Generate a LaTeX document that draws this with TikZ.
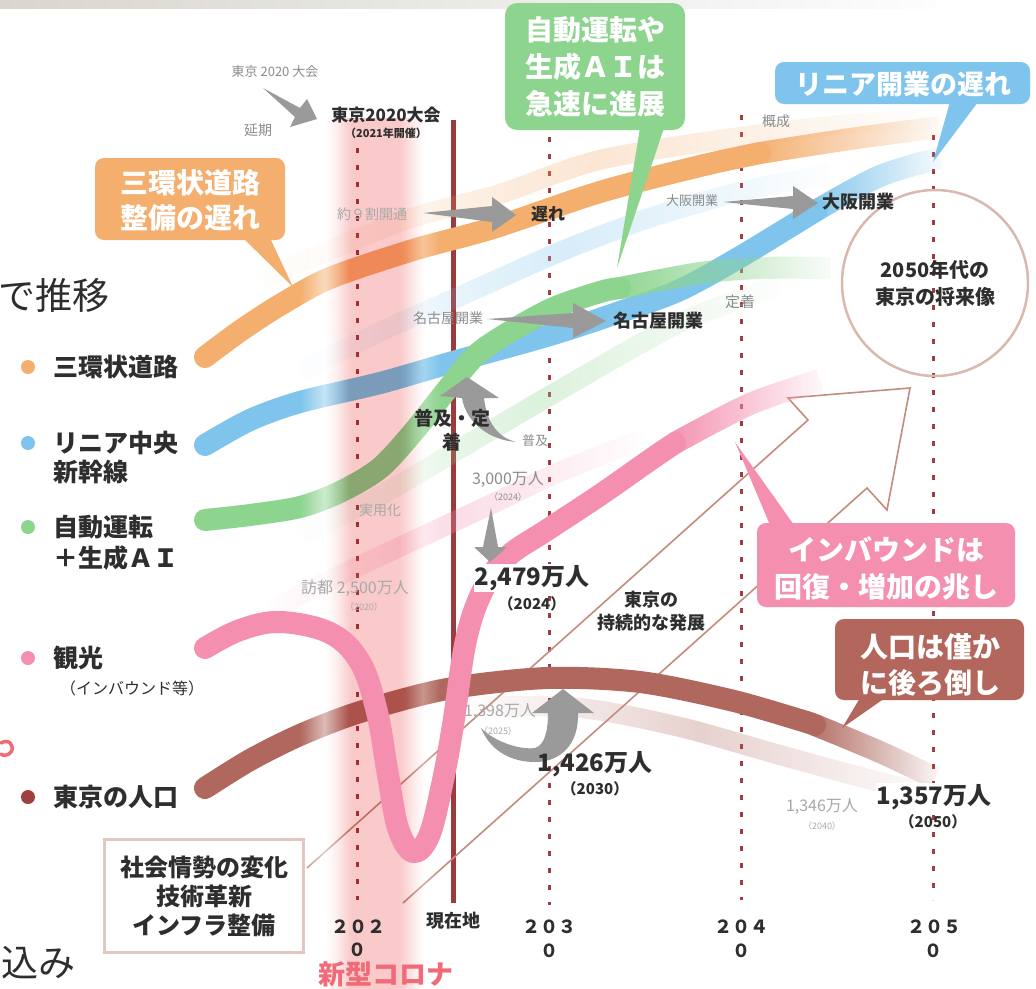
\documentclass[tikz,border=0pt]{standalone}
\usepackage{fontspec}
\setmainfont{Noto Sans CJK JP}
\usetikzlibrary{fadings}
\definecolor{cOr}{HTML}{F4AE6E}
\definecolor{cBl}{HTML}{7EC4EC}
\definecolor{cGr}{HTML}{8DD48F}
\definecolor{cPk}{HTML}{F48FAF}
\definecolor{cBr}{HTML}{B0685E}
\definecolor{cBrC}{HTML}{B3675C}
\definecolor{cDot}{HTML}{A23C3C}
\definecolor{cLeg}{HTML}{A0403C}
\definecolor{cNow}{HTML}{9C3B3B}
\definecolor{cTx}{HTML}{2E2E2E}
\definecolor{cGy}{HTML}{8C8C8C}
\definecolor{cGyL}{HTML}{A8A8A8}
\definecolor{cAr}{HTML}{9A9A9A}
\definecolor{cCv}{HTML}{FACACA}
\definecolor{cFrame}{HTML}{E2C8C0}
\definecolor{cCirc}{HTML}{D9B9AF}
\definecolor{cOut}{HTML}{C48C7E}
\definecolor{cCov}{HTML}{F06A78}
\definecolor{cBar}{HTML}{D9D6CF}
\pgfdeclarehorizontalshading{corona}{100bp}{color(0bp)=(white); color(25bp)=(white); color(38bp)=(cCv); color(62bp)=(cCv); color(75bp)=(white); color(100bp)=(white)}
\tikzfading[name=fadeout, left color=transparent!0, middle color=transparent!0, right color=transparent!100]
\tikzfading[name=fadeboth, left color=transparent!100, right color=transparent!100, middle color=transparent!0]
\newcommand\fsz[1]{\fontsize{#1}{#1}\selectfont}
\begin{document}
\begin{tikzpicture}[x=1pt,y=-1pt,
  mainband/.style={line width=22pt, line cap=round, line join=round},
  fadetail/.style={line width=22pt, line cap=butt, path fading=fadeout},
  ghostband/.style={line width=20pt, line cap=butt, opacity=0.3, path fading=fadeboth},
  dk/.style={inner sep=0pt, text=cTx, font=\bfseries\fsz{#1}},
  gy/.style={inner sep=0pt, text=cGy, font=\fsz{#1}},
  gyl/.style={inner sep=0pt, text=cGyL, font=\fsz{#1}},
  leg/.style={inner sep=0pt, anchor=west, text=cTx, font=\bfseries\fsz{25}},
  ctext/.style={inner sep=0pt, text=white, align=center},
  yr/.style={inner sep=0pt, text=cTx, font=\bfseries\fsz{18}},
  dotline/.style={cDot, line width=3pt, dash pattern=on 5pt off 12pt},
  garrow/.style={fill=cAr}
]
\useasboundingbox (0,0) rectangle (1036,988);
\fill[white] (0,0) rectangle (1036,988);
% top bar
\shade[left color=cBar, right color=white!95!cBar] (0,0) rectangle (935,8);

% vertical guide lines
\draw[dotline] (357,148) -- (357,900);
\draw[dotline] (549,137) -- (549,905);
\draw[dotline] (741,115) -- (741,900);
\draw[dotline] (933,135) -- (933,900);
\draw[cNow, line width=5pt] (453,120) -- (453,903);

% ghost bands
\draw[ghostband, cOr] plot[smooth] coordinates {(260,280) (400,222) (500,194) (600,160) (740,137) (850,124) (930,120)};
\draw[ghostband, cBl] plot[smooth] coordinates {(300,372) (380,332) (470,292) (560,252) (650,218) (740,192) (830,174)};
\draw[ghostband, cGr] plot[smooth] coordinates {(300,535) (378,497) (463,447) (560,390) (680,323) (780,285)};
\draw[ghostband, cPk] plot[smooth] coordinates {(270,610) (357,567) (430,533) (490,505) (560,472) (640,440)};
\draw[ghostband, cBr] plot[smooth] coordinates {(470,706) (580,708) (680,727) (780,755) (880,782) (930,792)};

% big outline arrow
\draw[cOut, line width=1.6pt, line join=miter] (307,868) -- (808,420) -- (788,398) -- (910,388) -- (887,510) -- (867,488) -- (403,903);

% main curves
\draw[mainband, cOr] plot[smooth] coordinates {(205,357) (240,331) (280,305) (330,278) (413,250) (493,228) (600,192) (700,166) (760,153)};
\draw[fadetail, cOr] plot[smooth] coordinates {(760,153) (850,139) (940,127)};

\draw[mainband, cBl] plot[smooth] coordinates {(205,445) (250,420) (300,402) (380,383) (453,362) (550,335) (620,312) (680,290) (740,257) (817,210)};
\draw[fadetail, cBl] plot[smooth] coordinates {(817,210) (880,176) (940,158)};

\draw[mainband, cGr] plot[smooth] coordinates {(205,520) (250,515) (300,507) (340,492) (380,468) (415,430) (450,386) (482,350) (547,311) (600,292) (620,288)};
\draw[fadetail, cGr] plot[smooth] coordinates {(620,288) (700,273) (760,268) (830,268)};

\draw[mainband, cBr] plot[smooth] coordinates {(205,788) (250,760) (300,735) (360,712) (447,689) (547,678) (640,682) (730,700) (800,720) (815,725)};
\draw[fadetail, cBr] plot[smooth] coordinates {(815,725) (880,752) (935,778)};

% corona band overlay
\shade[shading=corona, blend mode=multiply] (325,118) rectangle (425,988);
\fill[white, opacity=0.55, path fading=fadeboth] (300,118) rectangle (348,988);
\fill[white, opacity=0.3, path fading=fadeboth] (405,118) rectangle (440,988);

% tourism curve on top
\draw[mainband, cPk] plot[smooth, tension=0.6] coordinates {(205,648) (240,630) (280,622) (330,633) (360,662) (377,712) (388,775) (398,828) (413,852) (429,836) (442,785) (453,725) (466,640) (483,590) (507,557) (547,530) (600,495) (650,460) (675,443)};
\draw[fadetail, cPk] plot[smooth] coordinates {(675,443) (750,404) (820,380)};

% future circle
\node[circle, draw=cCirc, line width=2.5pt, minimum size=186pt, inner sep=0pt, align=center, text=cTx, font=\bfseries\fontsize{20}{27}\selectfont] (fut) at (935,283) {2050年代の\\東京の将来像};

% box
\node[draw=cFrame, line width=3.5pt, fill=white, minimum width=199pt, minimum height=113pt, inner sep=0pt, align=center, text=cTx, font=\bfseries\fontsize{24}{29}\selectfont] (box) at (204,896) {社会情勢の変化\\技術革新\\インフラ整備};

% gray arrows
\fill[garrow] (263,88) -- (300,108) -- (307,99) -- (317,119) -- (290,127) -- (295,117) -- cycle;
\fill[garrow] (423,213) -- (492,206) -- (492,197) -- (516,215) -- (492,232) -- (492,222) -- cycle;
\fill[garrow] (487,319) -- (573,313) -- (573,303) -- (606,321) -- (573,338) -- (573,328) -- cycle;
\fill[garrow] (723,202) -- (793,196) -- (793,186) -- (818,203) -- (793,219) -- (793,209) -- cycle;
\fill[garrow] (467,377) -- (499,398) -- (484,398) .. controls (487,425) and (500,438) .. (516,442) .. controls (490,440) and (466,423) .. (462,398) -- (440,396) -- cycle;
\fill[garrow] (491,508) -- (498,547) -- (507,547) -- (490,562) -- (474,547) -- (483,547) -- cycle;
\fill[garrow] (563,689) -- (594,713) -- (578,713) .. controls (579,745) and (560,762) .. (535,762) .. controls (510,762) and (490,750) .. (481,728) .. controls (495,742) and (520,750) .. (535,748) .. controls (545,745) and (548,730) .. (548,713) -- (532,713) -- cycle;

% labels
\node[gy=13] (tA) at (275,72) {東京 2020 大会};
\node[gy=14] (tB) at (258,130) {延期};
\node[dk=17] (tC) at (386,115) {東京2020大会};
\node[dk=11] (tD) at (386,133) {（2021年開催）};
\node[gyl=14] (tE) at (372,214) {約９割開通};
\node[dk=17] (tF) at (548,214) {遅れ};
\node[gy=14] (tG) at (776,121) {概成};
\node[gy=13] (tH) at (692,201) {大阪開業};
\node[dk=18] (tI) at (858,202) {大阪開業};
\node[gy=14] (tJ) at (448,318) {名古屋開業};
\node[dk=18] (tK) at (658,321) {名古屋開業};
\node[gy=15] (tL) at (740,302) {定着};
\node[inner sep=0pt, text=cTx, align=center, font=\bfseries\fontsize{19}{24}\selectfont] (tN) at (452,430) {普及・定\\着};
\node[gy=13] (tO) at (535,441) {普及};
\node[gy=16] (tP) at (508,480) {3,000万人};
\node[gy=9] (tQ) at (508,497) {（2024）};
\node[gyl=14] (tR) at (380,510) {実用化};
\node[gyl=16] (tS) at (355,588) {訪都 2,500万人};
\node[gyl=9] (tT) at (364,607) {（2020）};
\node[dk=24, fill=white, inner sep=1pt] (tU) at (532,578) {2,479万人};
\node[dk=15] (tV) at (532,604) {（2024）};
\node[inner sep=0pt, text=cTx, align=center, font=\bfseries\fontsize{18}{23}\selectfont] (tW) at (651,611) {東京の\\持続的な発展};
\node[gyl=16] (tX) at (500,712) {1,398万人};
\node[gyl=9] (tY) at (498,731) {（2025）};
\node[dk=24] (tZ) at (595,764) {1,426万人};
\node[dk=15] (tZb) at (595,789) {（2030）};
\node[gyl=16] (t40) at (822,807) {1,346万人};
\node[gyl=9] (t40b) at (822,826) {（2040）};
\node[dk=24, fill=white, inner sep=1pt] (t50) at (934,797) {1,357万人};
\node[dk=15] (t50b) at (933,822) {（2050）};

% years
\node[yr] (y20) at (358,927) {２０２};
\node[yr] (y20b) at (357,950) {０};
\node[yr] (y30) at (549,927) {２０３};
\node[yr] (y30b) at (549,951) {０};
\node[yr] (y40) at (741,927) {２０４};
\node[yr] (y40b) at (741,951) {０};
\node[yr] (y50) at (934,927) {２０５};
\node[yr] (y50b) at (933,951) {０};
\node[dk=18] (now) at (453,921) {現在地};
\node[inner sep=0pt, text=cCov, font=\bfseries\fsz{27}] (cov) at (386,974) {新型コロナ};

% callouts
\fill[cOr, rounded corners=9pt] (95,158) rectangle (285,240);
\fill[cOr] (243,238) -- (270,238) -- (293,287) -- cycle;
\node[ctext, font=\bfseries\fontsize{28}{35}\selectfont] (cO) at (190,200) {三環状道路\\整備の遅れ};

\fill[cGr, rounded corners=12pt] (505,3) rectangle (685,130);
\fill[cGr] (640,128) -- (664,128) -- (617,268) -- cycle;
\node[ctext, font=\bfseries\fontsize{28}{37}\selectfont] (cG) at (595,67) {自動運転や\\生成ＡＩは\\急速に進展};

\fill[cBl, rounded corners=9pt] (775,62) rectangle (1030,104);
\fill[cBl] (950,102) -- (978,102) -- (933,162) -- cycle;
\node[ctext, font=\bfseries\fsz{27}] (cB) at (903,84) {リニア開業の遅れ};

\fill[cPk, rounded corners=9pt] (757,523) rectangle (1015,607);
\fill[cPk] (770,525) -- (794,525) -- (735,442) -- cycle;
\node[ctext, font=\bfseries\fontsize{28}{37}\selectfont] (cP) at (886,568) {インバウンドは\\回復・増加の兆し};

\fill[cBrC, rounded corners=9pt] (835,619) rectangle (1024,700);
\fill[cBrC] (860,698) -- (885,698) -- (842,728) -- cycle;
\node[ctext, font=\bfseries\fontsize{28}{36}\selectfont] (cR) at (930,665) {人口は僅か\\に後ろ倒し};

% legend
\fill[cOr] (28,367) circle (7);
\node[leg] (lO) at (53,367) {三環状道路};
\fill[cBl] (28,443) circle (7);
\node[leg] (lB) at (53,443) {リニア中央};
\node[leg] (lB2) at (53,472) {新幹線};
\fill[cGr] (28,527) circle (7);
\node[leg] (lG) at (53,527) {自動運転};
\node[leg] (lG2) at (53,558) {＋生成ＡＩ};
\fill[cPk] (28,658) circle (7);
\node[leg] (lP) at (53,658) {観光};
\node[inner sep=0pt, anchor=west, text=cTx, font=\fsz{16}] (lP2) at (60,688) {（インバウンド等）};
\fill[cLeg] (28,797) circle (7);
\node[leg] (lR) at (53,797) {東京の人口};

% partial texts at left edge
\node[inner sep=0pt, anchor=east, text=cTx, font=\fsz{37}] (pA) at (110,295) {で推移};
\node[inner sep=0pt, anchor=east, text=cTx, font=\fsz{37}] (pB) at (76,963) {込み};
\draw[cCov, line width=3.5pt, line cap=round] (1,743) .. controls (9,738) and (15,746) .. (11,752) .. controls (8,756) and (3,756) .. (1,754);
\end{tikzpicture}
\end{document}
